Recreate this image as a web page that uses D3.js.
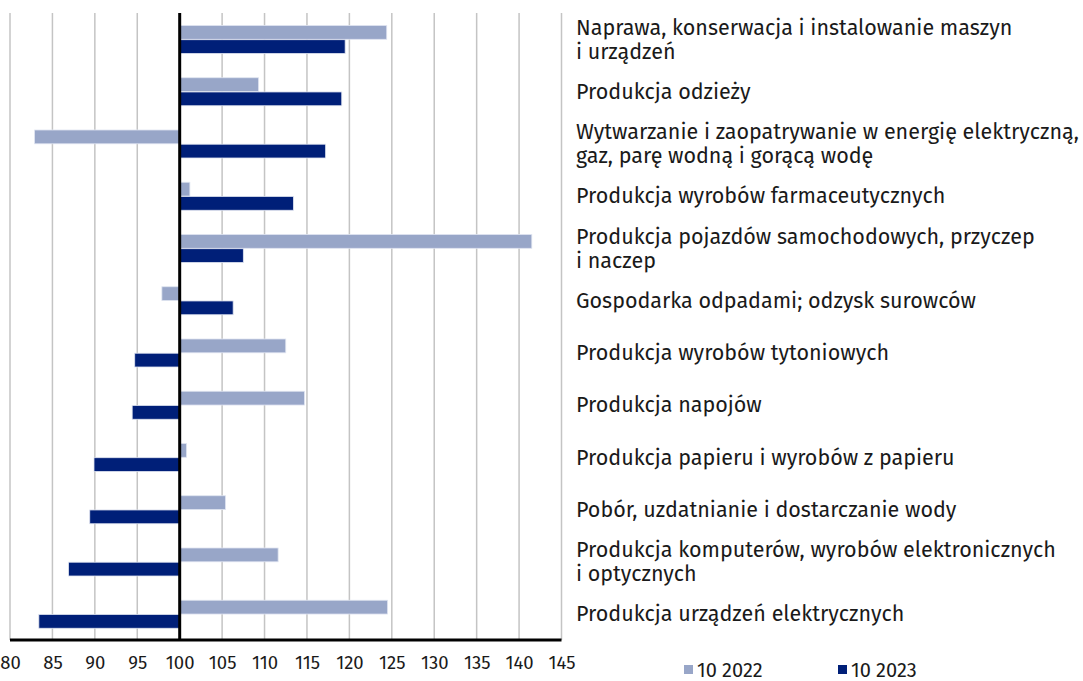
<!DOCTYPE html>
<html>
<head>
<meta charset="utf-8">
<script src="https://cdn.jsdelivr.net/npm/d3@7"></script>
<style>
  body { margin: 0; background: #fff; }
  text { font-family: "Fira Sans", "Noto Sans", sans-serif; fill: #1a1a1a; }
</style>
</head>
<body>
<svg width="1083" height="681"></svg>
<script>

    var categories = [
        ["Naprawa, konserwacja i instalowanie maszyn", "i urządzeń"],
        ["Produkcja odzieży"],
        ["Wytwarzanie i zaopatrywanie w energię elektryczną,", "gaz, parę wodną i gorącą wodę"],
        ["Produkcja wyrobów farmaceutycznych"],
        ["Produkcja pojazdów samochodowych, przyczep", "i naczep"],
        ["Gospodarka odpadami; odzysk surowców"],
        ["Produkcja wyrobów tytoniowych"],
        ["Produkcja napojów"],
        ["Produkcja papieru i wyrobów z papieru"],
        ["Pobór, uzdatnianie i dostarczanie wody"],
        ["Produkcja komputerów, wyrobów elektronicznych", "i optycznych"],
        ["Produkcja urządzeń elektrycznych"]
    ];
    var values2022 = [124.4, 109.3, 82.9, 101.2, 141.5, 97.9, 112.5, 114.7, 100.8, 105.4, 111.6, 124.5];
    var values2023 = [119.5, 119.1, 117.2, 113.4, 107.5, 106.3, 94.7, 94.4, 89.9, 89.4, 86.9, 83.4];
    var seriesNames = ["10 2022", "10 2023"];
    var colors = ["#98a6c8", "#001f78"];
    var ticks = d3.range(80, 146, 5);

    var svg = d3.select("svg"),
        margin = {top: 13, left: 10},
        width = 551.5,
        height = 627;

    var x = d3.scaleLinear().domain([80, 145]).range([0, width]);
    var y = d3.scaleBand().domain(d3.range(categories.length)).range([0, height]);
    var inner = d3.scaleBand().domain([0, 1]).range([12.5, 40.5]).paddingInner(0.03);

    var g = svg.append("g")
        .attr("transform", "translate(" + margin.left + "," + margin.top + ")");

    // grid
    g.append("g")
        .selectAll("line")
        .data(ticks)
        .enter()
        .append("line")
        .attr("x1", function(d) { return x(d); })
        .attr("x2", function(d) { return x(d); })
        .attr("y1", 0)
        .attr("y2", height)
        .attr("stroke", "#c4c4c4")
        .attr("stroke-width", 1.5);

    var series = [values2022, values2023];
    series.forEach(function(vals, s) {
        g.append("g")
            .selectAll("rect")
            .data(vals)
            .enter()
            .append("rect")
            .attr("x", function(d) { return x(Math.min(d, 100)); })
            .attr("y", function(d, i) { return y(i) + inner(s); })
            .attr("width", function(d) { return Math.abs(x(d) - x(100)); })
            .attr("height", inner.bandwidth())
            .attr("fill", colors[s])
            .attr("stroke", "#dfe4f0")
            .attr("stroke-width", 0.8);
    });

    // axes lines
    g.append("line")
        .attr("x1", x(100)).attr("x2", x(100))
        .attr("y1", 0).attr("y2", height)
        .attr("stroke", "#000").attr("stroke-width", 3);

    g.append("line")
        .attr("x1", 0).attr("x2", width)
        .attr("y1", height).attr("y2", height)
        .attr("stroke", "#000").attr("stroke-width", 3);

    var xAxis = g.append("g")
        .attr("transform", "translate(0," + height + ")")
        .call(d3.axisBottom(x).tickValues(ticks).tickSize(0).tickPadding(16));
    xAxis.select(".domain").remove();
    xAxis.selectAll("text")
        .attr("font-size", 18.5)
        .attr("font-family", "\"Fira Sans\", \"Noto Sans\", sans-serif")
        .attr("fill", "#1a1a1a");

    // category labels
    var labels = g.append("g").selectAll("text")
        .data(categories)
        .enter()
        .append("text")
        .attr("x", 566)
        .attr("font-size", 21.5);
    labels.each(function(lines, i) {
        var t = d3.select(this);
        var c = y(i) + y.bandwidth() / 2;
        lines.forEach(function(line, k) {
            t.append("tspan")
                .attr("x", 566)
                .attr("y", c + (k - (lines.length - 1) / 2) * 24)
                .attr("dy", "0.35em")
                .text(line);
        });
    });

    // legend
    var legend = svg.append("g")
        .selectAll("g")
        .data(seriesNames)
        .enter()
        .append("g")
        .attr("transform", function(d, i) { return "translate(" + (684 + i * 154) + ",665)"; });
    legend.append("rect")
        .attr("width", 9).attr("height", 9)
        .attr("fill", function(d, i) { return colors[i]; });
    legend.append("text")
        .attr("x", 13).attr("y", 5)
        .attr("dy", "0.35em")
        .attr("font-size", 20)
        .text(function(d) { return d; });

</script>
</body>
</html>
